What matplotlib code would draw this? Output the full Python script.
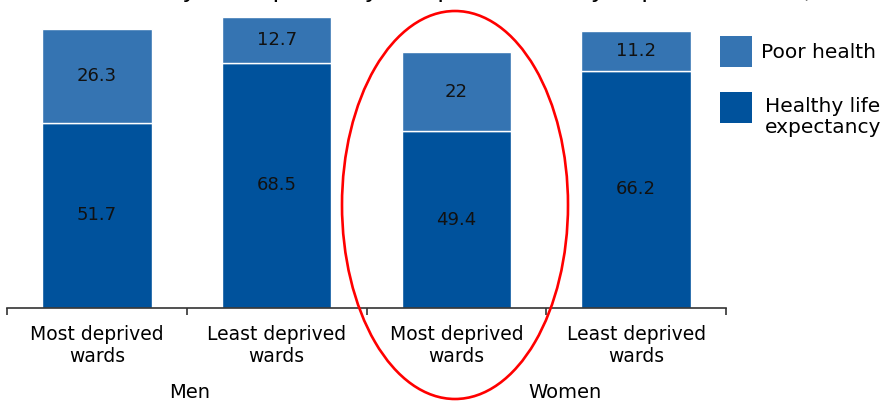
import numpy as np
import matplotlib
matplotlib.use("Agg")
import matplotlib.pyplot as plt
from matplotlib.patches import Rectangle, Ellipse

# data
categories = ["Most deprived\nwards", "Least deprived\nwards",
              "Most deprived\nwards", "Least deprived\nwards"]
groups = ["Men", "Women"]
healthy = [51.7, 68.5, 49.4, 66.2]
poor = [26.3, 12.7, 22, 11.2]
series_names = ["Poor health", "Healthy life\nexpectancy"]
title = "Healthy life expectancy and poor health by deprivation level, 2001"

dark = "#00529C"
light = "#3574B2"

W, H = 886, 401
fig = plt.figure(figsize=(W / 100, H / 100), dpi=100)
ax = fig.add_axes([7 / W, 93 / H, 719 / W, 308 / H])

x = np.arange(len(categories))
ax.bar(x, healthy, width=0.61, color=dark, edgecolor="white", linewidth=1)
ax.bar(x, poor, width=0.61, bottom=healthy, color=light, edgecolor="white", linewidth=1)

for i in range(len(x)):
    ax.text(x[i], healthy[i] / 2, str(healthy[i]), ha="center", va="center",
            fontsize=13, color="#111111")
    ax.text(x[i], healthy[i] + poor[i] / 2, str(poor[i]), ha="center", va="center",
            fontsize=13, color="#111111")

ax.set_xlim(-0.5, 3.5)
ax.set_ylim(0, 86.0)
for s in ["top", "right", "left"]:
    ax.spines[s].set_visible(False)
ax.spines["bottom"].set_color("#333333")
ax.spines["bottom"].set_linewidth(1.2)
ax.set_yticks([])

# boundary ticks + centred labels
ax.set_xticks(np.arange(-0.5, 4, 1.0))
ax.set_xticklabels([])
ax.tick_params(axis="x", which="major", length=5, width=1.2, color="#333333")
ax.set_xticks(x, minor=True)
ax.set_xticklabels(categories, minor=True, fontsize=13.5, linespacing=1.25)
ax.tick_params(axis="x", which="minor", length=0, pad=12)

# group labels
fig.text(190 / W, 1 - 392 / H, groups[0], ha="center", va="center", fontsize=14)
fig.text(565 / W, 1 - 392 / H, groups[1], ha="center", va="center", fontsize=14)

# legend drawn by hand
fig.add_artist(Rectangle((720 / W, 1 - 67 / H), 32 / W, 31 / H, transform=fig.transFigure,
                         facecolor=light, edgecolor="none"))
fig.add_artist(Rectangle((720 / W, 1 - 123 / H), 32 / W, 31 / H, transform=fig.transFigure,
                         facecolor=dark, edgecolor="none"))
fig.text(761 / W, 1 - 52 / H, series_names[0], ha="left", va="center", fontsize=14.5)
fig.text(823 / W, 1 - 117 / H, series_names[1], ha="center", va="center", fontsize=14.5,
         multialignment="center", linespacing=1.1)

# red ring
fig.add_artist(Ellipse((455 / W, 1 - 205 / H), 226 / W, 388 / H, transform=fig.transFigure,
                       facecolor="none", edgecolor="red", linewidth=1.9))

# title mostly cut off at the top edge, only descenders show
fig.text(107 / W, 1 + 3.5 / H, title, ha="left", va="baseline", fontsize=19,
         family="Liberation Sans")

fig.savefig("out.png", dpi=100)
